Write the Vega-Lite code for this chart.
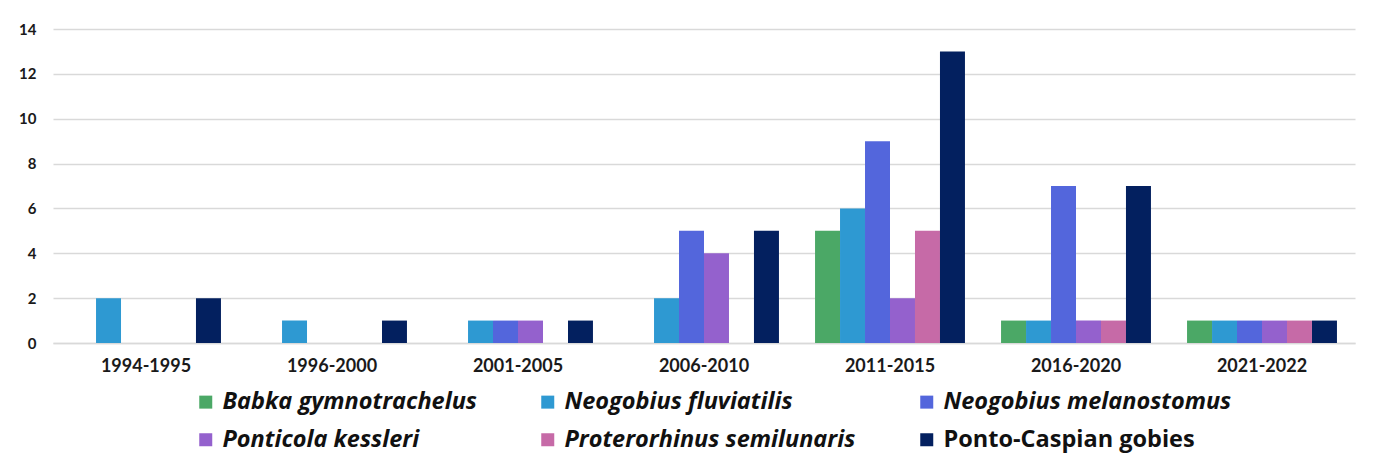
{
  "$schema": "https://vega.github.io/schema/vega-lite/v6.json",
  "width": 1302,
  "height": 314,
  "autosize": {"type": "none"},
  "padding": {"left": 53, "top": 29, "right": 20, "bottom": 124},
  "background": "white",
  "data": {
    "values": [
      {"period": "1994-1995", "species": "Babka gymnotrachelus", "count": 0},
      {"period": "1994-1995", "species": "Neogobius fluviatilis", "count": 2},
      {"period": "1994-1995", "species": "Neogobius melanostomus", "count": 0},
      {"period": "1994-1995", "species": "Ponticola kessleri", "count": 0},
      {"period": "1994-1995", "species": "Proterorhinus semilunaris", "count": 0},
      {"period": "1994-1995", "species": "Ponto-Caspian gobies", "count": 2},
      {"period": "1996-2000", "species": "Babka gymnotrachelus", "count": 0},
      {"period": "1996-2000", "species": "Neogobius fluviatilis", "count": 1},
      {"period": "1996-2000", "species": "Neogobius melanostomus", "count": 0},
      {"period": "1996-2000", "species": "Ponticola kessleri", "count": 0},
      {"period": "1996-2000", "species": "Proterorhinus semilunaris", "count": 0},
      {"period": "1996-2000", "species": "Ponto-Caspian gobies", "count": 1},
      {"period": "2001-2005", "species": "Babka gymnotrachelus", "count": 0},
      {"period": "2001-2005", "species": "Neogobius fluviatilis", "count": 1},
      {"period": "2001-2005", "species": "Neogobius melanostomus", "count": 1},
      {"period": "2001-2005", "species": "Ponticola kessleri", "count": 1},
      {"period": "2001-2005", "species": "Proterorhinus semilunaris", "count": 0},
      {"period": "2001-2005", "species": "Ponto-Caspian gobies", "count": 1},
      {"period": "2006-2010", "species": "Babka gymnotrachelus", "count": 0},
      {"period": "2006-2010", "species": "Neogobius fluviatilis", "count": 2},
      {"period": "2006-2010", "species": "Neogobius melanostomus", "count": 5},
      {"period": "2006-2010", "species": "Ponticola kessleri", "count": 4},
      {"period": "2006-2010", "species": "Proterorhinus semilunaris", "count": 0},
      {"period": "2006-2010", "species": "Ponto-Caspian gobies", "count": 5},
      {"period": "2011-2015", "species": "Babka gymnotrachelus", "count": 5},
      {"period": "2011-2015", "species": "Neogobius fluviatilis", "count": 6},
      {"period": "2011-2015", "species": "Neogobius melanostomus", "count": 9},
      {"period": "2011-2015", "species": "Ponticola kessleri", "count": 2},
      {"period": "2011-2015", "species": "Proterorhinus semilunaris", "count": 5},
      {"period": "2011-2015", "species": "Ponto-Caspian gobies", "count": 13},
      {"period": "2016-2020", "species": "Babka gymnotrachelus", "count": 1},
      {"period": "2016-2020", "species": "Neogobius fluviatilis", "count": 1},
      {"period": "2016-2020", "species": "Neogobius melanostomus", "count": 7},
      {"period": "2016-2020", "species": "Ponticola kessleri", "count": 1},
      {"period": "2016-2020", "species": "Proterorhinus semilunaris", "count": 1},
      {"period": "2016-2020", "species": "Ponto-Caspian gobies", "count": 7},
      {"period": "2021-2022", "species": "Babka gymnotrachelus", "count": 1},
      {"period": "2021-2022", "species": "Neogobius fluviatilis", "count": 1},
      {"period": "2021-2022", "species": "Neogobius melanostomus", "count": 1},
      {"period": "2021-2022", "species": "Ponticola kessleri", "count": 1},
      {"period": "2021-2022", "species": "Proterorhinus semilunaris", "count": 1},
      {"period": "2021-2022", "species": "Ponto-Caspian gobies", "count": 1}
    ]
  },
  "mark": {"type": "bar"},
  "encoding": {
    "x": {
      "field": "period",
      "type": "nominal",
      "sort": null,
      "scale": {"paddingInner": 0.194, "paddingOuter": 0.097},
      "axis": {
        "title": null,
        "labelAngle": 0,
        "ticks": false,
        "domainColor": "#d9d9d9",
        "domainWidth": 1.5,
        "labelFont": "Lato",
        "labelFontSize": 18,
        "labelFontWeight": "bold",
        "labelColor": "#1a1a1a",
        "labelPadding": 14
      }
    },
    "xOffset": {
      "field": "species",
      "type": "nominal",
      "sort": ["Babka gymnotrachelus", "Neogobius fluviatilis", "Neogobius melanostomus", "Ponticola kessleri", "Proterorhinus semilunaris", "Ponto-Caspian gobies"],
      "scale": {"paddingInner": 0, "paddingOuter": 0}
    },
    "y": {
      "field": "count",
      "type": "quantitative",
      "scale": {"domain": [0, 14], "nice": false},
      "axis": {
        "title": null,
        "values": [0, 2, 4, 6, 8, 10, 12, 14],
        "ticks": false,
        "domain": false,
        "gridColor": "#d9d9d9",
        "gridWidth": 1.5,
        "labelFont": "Lato",
        "labelFontSize": 15,
        "labelFontWeight": "bold",
        "labelColor": "#1a1a1a",
        "labelPadding": 17
      }
    },
    "color": {
      "field": "species",
      "type": "nominal",
      "sort": ["Babka gymnotrachelus", "Neogobius fluviatilis", "Neogobius melanostomus", "Ponticola kessleri", "Proterorhinus semilunaris", "Ponto-Caspian gobies"],
      "scale": {
        "domain": ["Babka gymnotrachelus", "Neogobius fluviatilis", "Neogobius melanostomus", "Ponticola kessleri", "Proterorhinus semilunaris", "Ponto-Caspian gobies"],
        "range": ["#4BA866", "#2E99D2", "#5366DC", "#9461CD", "#C66AA7", "#03205F"]
      },
      "legend": {
        "title": null,
        "orient": "none",
        "legendX": 141,
        "legendY": 361,
        "direction": "horizontal",
        "columns": 3,
        "columnPadding": 59,
        "rowPadding": 13,
        "symbolType": "square",
        "symbolSize": 169,
        "symbolStrokeWidth": 0,
        "labelFont": "Open Sans",
        "labelFontSize": 23.5,
        "labelFontWeight": "bold",
        "labelColor": "#111111",
        "labelOffset": 5,
        "labelLimit": 500,
        "encode": {
          "labels": {
            "update": {
              "fontStyle": {"signal": "datum.value === 'Ponto-Caspian gobies' ? 'normal' : 'italic'"}
            }
          }
        }
      }
    }
  },
  "config": {
    "view": {"stroke": null}
  }
}
